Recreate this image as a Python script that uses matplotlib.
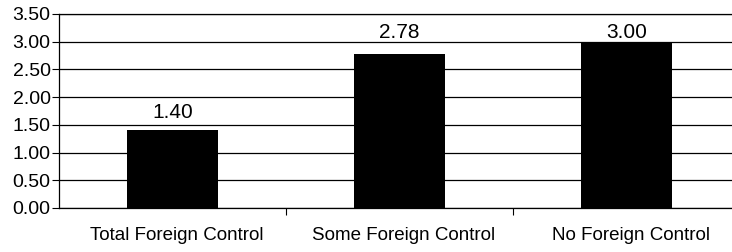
import matplotlib.pyplot as plt
import numpy as np

categories = ["Total Foreign Control", "Some Foreign Control", "No Foreign Control"]
values = [1.40, 2.78, 3.00]
yticks = [0.0, 0.5, 1.0, 1.5, 2.0, 2.5, 3.0, 3.5]

# label gaps above each bar (data units), as placed in the original
label_gap = [0.15, 0.22, 0.0]

plt.rcParams['font.family'] = ['Liberation Sans', 'DejaVu Sans']

fig = plt.figure(figsize=(7.32, 2.52), dpi=100)
# axes spans x 59..740 px, y 14..208 px
ax = fig.add_axes([59 / 732, 1 - 208 / 252, (740 - 59) / 732, (208 - 14) / 252])

x = np.arange(len(categories))
ax.bar(x, values, width=0.405, color='black', zorder=3)
for xi, v, g in zip(x, values, label_gap):
    ax.text(xi, v + g, f"{v:.2f}", ha='center', va='bottom', fontsize=15)

ax.set_xlim(-0.5, 2.5)
ax.set_ylim(0, 3.5)
ax.set_yticks(yticks)
ax.set_yticklabels([f"{t:.2f}" for t in yticks], fontsize=14)
ax.yaxis.grid(True, color='black', linewidth=0.9, zorder=0)
ax.tick_params(axis='y', length=5, width=0.8, pad=1, direction='out')

ax.set_xticks([0.5, 1.5])
ax.set_xticklabels([])
ax.tick_params(axis='x', length=5, width=0.8, direction='out')
ax.set_xticks(x + 0.02, minor=True)
ax.set_xticklabels(categories, minor=True, fontsize=13.5)
ax.tick_params(axis='x', which='minor', length=0, pad=14)

ax.spines['right'].set_visible(False)
for s in ['top', 'left', 'bottom']:
    ax.spines[s].set_linewidth(0.9)

fig.savefig("out.png", dpi=100)
